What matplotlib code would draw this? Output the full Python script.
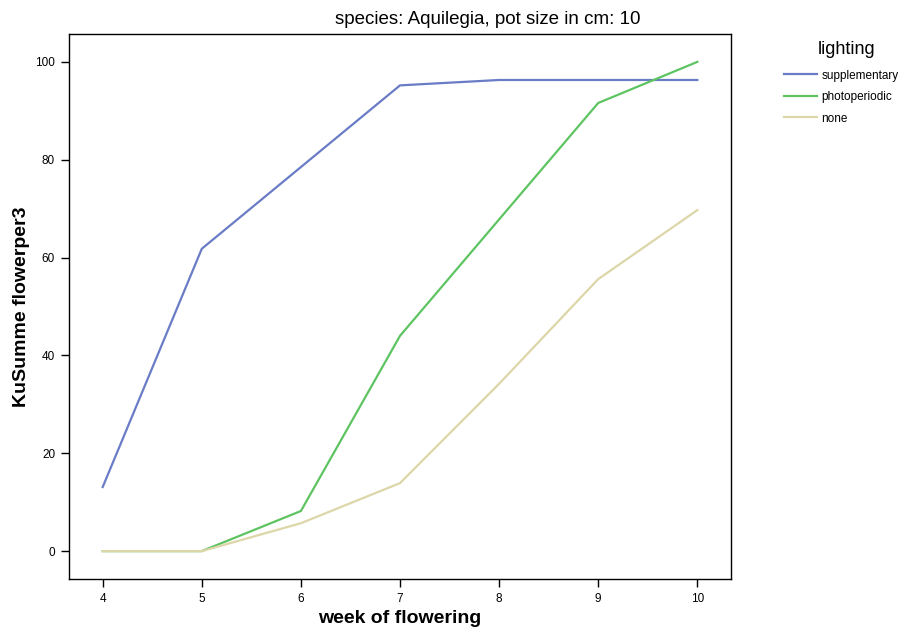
import matplotlib
matplotlib.use("Agg")
import matplotlib.pyplot as plt

plt.rcParams['font.family'] = ['Liberation Sans', 'DejaVu Sans']

# data
weeks = [4, 5, 6, 7, 8, 9, 10]
supplementary = [13.1, 61.8, 78.5, 95.2, 96.3, 96.3, 96.3]
photoperiodic = [0.0, 0.0, 8.2, 44.0, 67.8, 91.6, 100.0]
none = [0.0, 0.0, 5.7, 13.9, 34.2, 55.6, 69.7]

series = [
    ("supplementary", supplementary, "#6a7cc6"),
    ("photoperiodic", photoperiodic, "#5ec462"),
    ("none", none, "#dcd6a8"),
]

fig = plt.figure(figsize=(9.11, 6.37), dpi=100)
ax = fig.add_axes([69 / 911, 1 - 579 / 637, 662 / 911, 545 / 637])

for name, vals, col in series:
    ax.plot(weeks, vals, color=col, linewidth=1.6, label=name)

ax.set_xlim(3.66, 10.34)
ax.set_ylim(-5.7, 105.7)
ax.set_xticks(weeks)
ax.set_yticks([0, 20, 40, 60, 80, 100])
ax.tick_params(direction="out", length=6, width=1, labelsize=8.5, pad=4)
for s in ax.spines.values():
    s.set_linewidth(1)

ax.set_xlabel("week of flowering", fontsize=14, fontweight="bold", labelpad=4)
ax.set_ylabel("KuSumme flowerper3", fontsize=14, fontweight="bold", labelpad=4)
fig.text(488 / 911, 1 - 20 / 637, "species: Aquilegia, pot size in cm: 10",
         ha="center", va="center", fontsize=13.5)

handles, labels = ax.get_legend_handles_labels()
leg = fig.legend(handles, labels, loc="upper left",
                 bbox_to_anchor=(773 / 911, 1 - 59 / 637), frameon=False,
                 fontsize=8.5, handlelength=2.8,
                 labelspacing=0.8, handletextpad=0.4)
fig.text(818 / 911, 1 - 49 / 637, "lighting", ha="left", va="center", fontsize=13)

fig.savefig("out.png", dpi=100)
